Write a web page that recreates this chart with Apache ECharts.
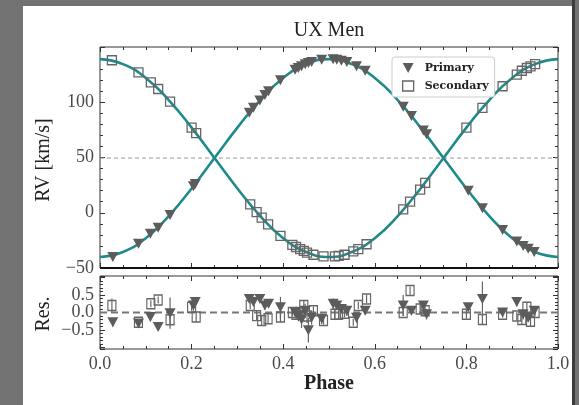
<!DOCTYPE html>
<html>
<head>
<meta charset="utf-8">
<script src="https://cdn.jsdelivr.net/npm/echarts@6/dist/echarts.min.js"></script>
<style>
  html, body { margin: 0; padding: 0; background: #727272; }
  #chart { width: 579px; height: 405px; }
</style>
</head>
<body>
<div id="chart"></div>
<script>
// Orbital model curves (phase vs radial velocity, km/s)
const modelPhase = [0, 0.05, 0.1, 0.15, 0.2, 0.25, 0.3, 0.35, 0.4, 0.45, 0.5, 0.55, 0.6, 0.65, 0.7, 0.75, 0.8, 0.85, 0.9, 0.95, 1];
const modelPrimary = [-40, -35.5, -23, -3, 22, 49.5, 77, 102, 122, 134.5, 139, 134.5, 122, 102, 77, 49.5, 22, -3, -23, -35.5, -40];
const modelSecondary = [139, 134.5, 122, 102, 77, 49.5, 22, -3, -23, -35.5, -40, -35.5, -23, -3, 22, 49.5, 77, 102, 122, 134.5, 139];
const systemicVelocity = 49.5;

// Primary observations
const phaseP = [0.028, 0.084, 0.110, 0.127, 0.153, 0.204, 0.208, 0.326, 0.335, 0.349, 0.360, 0.368, 0.394, 0.426, 0.433, 0.440, 0.448, 0.455, 0.462, 0.484, 0.509, 0.517, 0.527, 0.539, 0.560, 0.579, 0.662, 0.680, 0.706, 0.713, 0.804, 0.835, 0.879, 0.910, 0.924, 0.935, 0.948];
const rvP = [-40, -28, -19, -13.5, -2, 24, 26, 90.5, 95, 101.5, 106.5, 110, 120, 129.5, 131, 132.5, 134.5, 135.5, 136.5, 138.5, 139, 138.5, 137.5, 136.5, 132.5, 128.5, 96, 87.5, 74.5, 71, 20, 4, -15.5, -26, -30, -32.5, -35.5];
const resP = [-0.28, -0.32, -0.13, -0.42, -0.02, 0.20, 0.30, 0.39, 0.30, 0.39, 0.20, 0.25, 0.15, 0.00, -0.10, -0.20, 0.05, -0.51, -0.15, -0.18, 0.25, 0.20, 0.10, 0.05, -0.15, 0.05, 0.20, 0.05, 0.20, -0.05, 0.15, 0.39, 0.00, 0.30, -0.05, -0.15, 0.05];
const errP = [0.12, 0.08, 0.10, 0.10, 0.45, 0.15, 0.12, 0.10, 0.10, 0.10, 0.12, 0.10, 0.30, 0.10, 0.15, 0.25, 0.20, 0.35, 0.20, 0.15, 0.15, 0.10, 0.12, 0.15, 0.15, 0.10, 0.30, 0.10, 0.10, 0.15, 0.10, 0.50, 0.10, 0.12, 0.15, 0.10, 0.10];

// Secondary observations
const phaseS = [0.026, 0.084, 0.111, 0.127, 0.153, 0.200, 0.210, 0.328, 0.342, 0.353, 0.367, 0.394, 0.420, 0.428, 0.437, 0.445, 0.452, 0.466, 0.488, 0.513, 0.521, 0.534, 0.553, 0.564, 0.582, 0.662, 0.677, 0.699, 0.710, 0.800, 0.835, 0.879, 0.910, 0.921, 0.932, 0.940, 0.950];
const rvS = [138, 127, 118, 112, 100.5, 77, 72, 7.5, 0.5, -4.5, -10.5, -21, -29, -31, -33, -34.5, -36, -38, -39.5, -39.5, -39, -38, -35, -33, -28.5, 3, 10, 21, 27, 77, 95, 114.5, 125, 128.5, 131, 132.5, 134.5];
const resS = [0.20, -0.28, 0.25, 0.36, -0.21, 0.15, -0.13, 0.20, -0.09, -0.23, -0.18, -0.13, 0.00, -0.05, 0.00, 0.20, -0.10, 0.05, -0.23, -0.05, -0.05, -0.02, -0.28, 0.20, 0.39, 0.00, 0.63, 0.10, 0.05, -0.05, -0.20, -0.05, -0.10, -0.20, 0.15, -0.25, 0.00];
const errS = [0.20, 0.08, 0.10, 0.10, 0.12, 0.10, 0.15, 0.10, 0.15, 0.15, 0.15, 0.15, 0.10, 0.12, 0.10, 0.15, 0.20, 0.12, 0.12, 0.12, 0.15, 0.12, 0.10, 0.10, 0.12, 0.10, 0.12, 0.12, 0.10, 0.12, 0.15, 0.10, 0.12, 0.15, 0.15, 0.15, 0.10];

const xTicks = [0, 0.2, 0.4, 0.6, 0.8, 1.0];

const TEAL = '#1e8a8a';
const MARK = '#5c5c5c';
const SERIF = '"Liberation Serif", "DejaVu Serif", serif';
const triPath = 'path://M0,0L10,0L5,9Z';

const zip = (a, b) => a.map((v, i) => [v, b[i]]);
const bars = (ph, r, e) => ph.map((p, i) => [p, r[i] - e[i], r[i] + e[i]]);
const minusFmt = (s) => s.replace('-', '\u2212');

const tickStyle = { color: '#333', width: 1 };

function xAxisDef(grid, pos, labels) {
  return {
    type: 'value', gridIndex: grid, position: pos, min: 0, max: 1, interval: 0.2,
    axisLine: { show: false, onZero: false },
    axisTick: { show: true, inside: true, length: 5, lineStyle: tickStyle },
    minorTick: { show: true, splitNumber: 4, length: 3, lineStyle: tickStyle },
    splitLine: { show: false },
    axisLabel: {
      show: labels, margin: 6, fontFamily: SERIF, fontSize: 18, color: '#4a4a4a',
      formatter: (v) => xTicks.some(t => Math.abs(t - v) < 1e-6) ? v.toFixed(1) : ''
    }
  };
}

function yAxisDef(grid, pos, labels, min, max, extra) {
  return Object.assign({
    type: 'value', gridIndex: grid, position: pos, min: min, max: max,
    axisLine: { show: false, onZero: false },
    axisTick: { show: true, inside: true, length: 5, lineStyle: tickStyle },
    minorTick: { show: true, splitNumber: 5, length: 3, lineStyle: tickStyle },
    splitLine: { show: false },
    axisLabel: { show: labels, margin: 6, fontFamily: SERIF, fontSize: 18, color: '#4a4a4a' }
  }, extra || {});
}

const chart = echarts.init(document.getElementById('chart'), null, { renderer: 'canvas' });

const upperY = yAxisDef(0, 'left', true, -50, 150, { interval: 50 });
upperY.axisLabel.formatter = (v) => v > 120 ? '' : minusFmt(String(v));
const lowerY = yAxisDef(1, 'left', true, -1.05, 1.05, { splitNumber: 4 });
lowerY.axisLabel.formatter = (v) => Math.abs(v) > 0.6 ? '' : minusFmt(v.toFixed(1));
lowerY.axisLabel.showMinLabel = false;
lowerY.axisLabel.showMaxLabel = false;

const option = {
  animation: false,
  backgroundColor: 'transparent',
  graphic: [
    { type: 'rect', z: -100, silent: true, shape: { x: 23, y: 6, width: 549, height: 399 }, style: { fill: '#ffffff' } },
    { type: 'rect', z: -100, silent: true, shape: { x: 572, y: 0, width: 3, height: 405 }, style: { fill: '#3c3c3c' } },
    { type: 'line', z: 10, silent: true, shape: { x1: 100, y1: 268, x2: 558, y2: 268 }, style: { stroke: '#111', lineWidth: 2 } },
    { type: 'text', silent: true, x: 329, y: 31, style: { text: 'UX Men', font: '20px ' + SERIF, fill: '#222', align: 'center', verticalAlign: 'middle' } },
    { type: 'text', silent: true, x: 329, y: 384, style: { text: 'Phase', font: 'bold 20px ' + SERIF, fill: '#222', align: 'center', verticalAlign: 'middle' } },
    { type: 'text', silent: true, x: 44, y: 160, rotation: Math.PI / 2, style: { text: 'RV [km/s]', font: '20px ' + SERIF, fill: '#222', align: 'center', verticalAlign: 'middle' } },
    { type: 'text', silent: true, x: 44, y: 314, rotation: Math.PI / 2, style: { text: 'Res.', font: '20px ' + SERIF, fill: '#222', align: 'center', verticalAlign: 'middle' } }
  ],
  grid: [
    { left: 100, top: 47, width: 458, height: 221, show: true, borderColor: '#333', borderWidth: 1, backgroundColor: 'transparent' },
    { left: 100, top: 276, width: 458, height: 73, show: true, borderColor: '#333', borderWidth: 1, backgroundColor: 'transparent' }
  ],
  xAxis: [
    xAxisDef(0, 'bottom', false),
    xAxisDef(0, 'top', false),
    xAxisDef(1, 'bottom', true),
    xAxisDef(1, 'top', false)
  ],
  yAxis: [
    upperY,
    yAxisDef(0, 'right', false, -50, 150, { interval: 50 }),
    lowerY,
    yAxisDef(1, 'right', false, -1.05, 1.05, { splitNumber: 4 })
  ],
  legend: {
    left: 392, top: 57, orient: 'vertical',
    padding: [4, 6, 4, 10], itemGap: 4, itemWidth: 11, itemHeight: 10,
    borderColor: '#cccccc', borderWidth: 1, borderRadius: 3, backgroundColor: '#ffffff',
    textStyle: { fontFamily: '"DejaVu Serif", serif', fontWeight: 'bold', fontSize: 11, color: '#222', padding: [0, 0, 0, 6], lineHeight: 14 },
    data: [
      { name: 'Primary', icon: triPath, itemStyle: { color: MARK } },
      { name: 'Secondary', icon: 'rect', itemStyle: { color: '#ffffff', borderColor: '#666', borderWidth: 1.3 } }
    ]
  },
  series: [
    {
      name: 'gamma', type: 'line', xAxisIndex: 0, yAxisIndex: 0, symbol: 'none', silent: true, z: 1,
      data: [[0, systemicVelocity], [1, systemicVelocity]],
      lineStyle: { color: '#999', width: 1, type: [4, 3] }
    },
    {
      name: 'modelP', type: 'line', xAxisIndex: 0, yAxisIndex: 0, symbol: 'none', smooth: true, z: 2,
      data: zip(modelPhase, modelPrimary), lineStyle: { color: TEAL, width: 2.6 }
    },
    {
      name: 'modelS', type: 'line', xAxisIndex: 0, yAxisIndex: 0, symbol: 'none', smooth: true, z: 2,
      data: zip(modelPhase, modelSecondary), lineStyle: { color: TEAL, width: 2.6 }
    },
    {
      name: 'Primary', type: 'scatter', xAxisIndex: 0, yAxisIndex: 0, symbol: triPath, symbolSize: [11, 10], z: 4,
      data: zip(phaseP, rvP), itemStyle: { color: MARK, opacity: 1 }
    },
    {
      name: 'Secondary', type: 'scatter', xAxisIndex: 0, yAxisIndex: 0, symbol: 'rect', symbolSize: 9, z: 3,
      data: zip(phaseS, rvS), itemStyle: { color: 'rgba(255,255,255,0)', borderColor: '#666', borderWidth: 1.3, opacity: 1 }
    },
    {
      name: 'zero', type: 'line', xAxisIndex: 2, yAxisIndex: 2, symbol: 'none', silent: true, z: 1,
      data: [[0, 0], [1, 0]], lineStyle: { color: '#777', width: 2.2, type: [7, 4] }
    },
    {
      name: 'errP', type: 'custom', xAxisIndex: 2, yAxisIndex: 2, z: 2, silent: true,
      data: bars(phaseP, resP, errP),
      encode: { x: 0, y: [1, 2] },
      renderItem: (params, api) => {
        const a = api.coord([api.value(0), api.value(1)]);
        const b = api.coord([api.value(0), api.value(2)]);
        return { type: 'line', shape: { x1: a[0], y1: a[1], x2: b[0], y2: b[1] }, style: { stroke: '#666', lineWidth: 1.2 } };
      }
    },
    {
      name: 'errS', type: 'custom', xAxisIndex: 2, yAxisIndex: 2, z: 2, silent: true,
      data: bars(phaseS, resS, errS),
      encode: { x: 0, y: [1, 2] },
      renderItem: (params, api) => {
        const a = api.coord([api.value(0), api.value(1)]);
        const b = api.coord([api.value(0), api.value(2)]);
        return { type: 'line', shape: { x1: a[0], y1: a[1], x2: b[0], y2: b[1] }, style: { stroke: '#666', lineWidth: 1.2 } };
      }
    },
    {
      name: 'resPrimary', type: 'scatter', xAxisIndex: 2, yAxisIndex: 2, symbol: triPath, symbolSize: [11, 10], z: 4,
      data: zip(phaseP, resP), itemStyle: { color: MARK, opacity: 1 }
    },
    {
      name: 'resSecondary', type: 'scatter', xAxisIndex: 2, yAxisIndex: 2, symbol: 'rect', symbolSize: [8, 10], z: 3,
      data: zip(phaseS, resS), itemStyle: { color: 'rgba(255,255,255,0)', borderColor: '#666', borderWidth: 1.3, opacity: 1 }
    }
  ]
};

chart.setOption(option);
</script>
</body>
</html>
